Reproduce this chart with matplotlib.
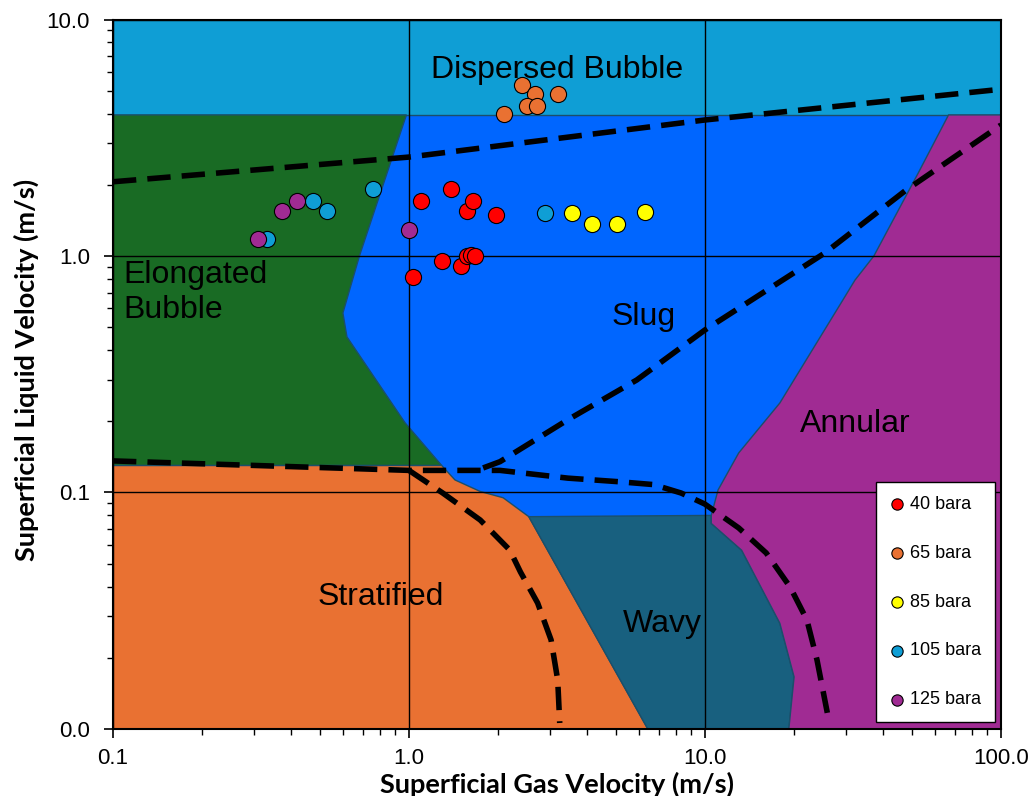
import numpy as np
import matplotlib.pyplot as plt
from matplotlib.ticker import FuncFormatter, LogLocator, NullFormatter
from matplotlib.patches import Polygon

# flow regime areas, (gas velocity, liquid velocity) in m/s
slug_x = [0.1, 100.0, 100.0, 0.1]
slug_y = [0.01, 0.01, 3.95, 3.95]
elongated_x = [0.1, 0.98, 0.68, 0.598, 0.617, 0.97, 1.29, 0.1]
elongated_y = [3.95, 3.95, 1.0, 0.574, 0.455, 0.197, 0.13, 0.13]
stratified_x = [0.1, 1.29, 1.43, 1.74, 2.08, 2.54, 6.41, 0.1]
stratified_y = [0.13, 0.13, 0.113, 0.101, 0.095, 0.079, 0.01, 0.01]
wavy_x = [2.54, 10.5, 10.5, 13.3, 17.9, 20.0, 19.2, 6.41]
wavy_y = [0.079, 0.080, 0.074, 0.057, 0.028, 0.0166, 0.01, 0.01]
annular_x = [100.0, 19.2, 20.0, 17.9, 13.3, 10.5, 10.5, 11.07, 13.0, 17.9,
             28.8, 32.1, 37.2, 52.5, 66.5, 100.0]
annular_y = [0.01, 0.01, 0.0166, 0.028, 0.057, 0.074, 0.080, 0.1025, 0.147, 0.239,
             0.632, 0.79, 1.0, 2.24, 3.95, 3.95]

# transition curves (dashed)
db_x = [0.1, 1.0, 10.0, 100.0]
db_y = [2.06, 2.62, 3.76, 5.07]
strat_x = [0.1, 1.0, 2.03, 3.44, 5.14, 6.7, 8.3, 9.98, 13.0, 16.1, 19.4, 22.1, 23.9, 25.9]
strat_y = [0.136, 0.124, 0.124, 0.115, 0.111, 0.108, 0.0995, 0.0894, 0.0708, 0.0555,
           0.0398, 0.0289, 0.0196, 0.0117]
wave_x = [1.0, 1.30, 1.74, 2.19, 2.38, 2.72, 3.02, 3.18, 3.23]
wave_y = [0.124, 0.0995, 0.0765, 0.0571, 0.0461, 0.0341, 0.0238, 0.0161, 0.0106]
ann_x = [1.78, 2.03, 3.44, 5.88, 9.98, 25.4, 47.8, 100.0]
ann_y = [0.127, 0.135, 0.203, 0.299, 0.486, 1.03, 1.90, 3.58]

# measured points
vsg_40 = [1.035, 1.098, 1.29, 1.382, 1.495, 1.568, 1.644, 1.568, 1.618, 1.670, 1.974]
vsl_40 = [0.813, 1.71, 0.952, 1.915, 0.91, 1.554, 1.71, 1.0, 1.01, 1.0, 1.486]
vsg_65 = [2.40, 2.66, 3.18, 2.50, 2.70, 2.10]
vsl_65 = [5.29, 4.84, 4.83, 4.32, 4.31, 3.98]
vsg_85 = [3.55, 4.16, 5.03, 6.27]
vsl_85 = [1.515, 1.36, 1.365, 1.53]
vsg_105 = [2.88, 0.754, 0.475, 0.527, 0.331]
vsl_105 = [1.515, 1.915, 1.71, 1.554, 1.177]
vsg_125 = [0.31, 0.373, 0.419, 1.0]
vsl_125 = [1.177, 1.554, 1.71, 1.288]

fig = plt.figure(figsize=(10.33, 7.96), dpi=100)
ax = fig.add_axes([0.1094, 0.0842, 0.8596, 0.8913])
ax.set_xscale('log')
ax.set_yscale('log')
ax.set_xlim(0.1, 100)
ax.set_ylim(0.01, 10)
ax.set_facecolor('#0F9ED5')

edge = '#1B4F6A'
regions = [(slug_x, slug_y, '#0066FF'),
           (elongated_x, elongated_y, '#196B24'),
           (stratified_x, stratified_y, '#E97132'),
           (wavy_x, wavy_y, '#18607F'),
           (annular_x, annular_y, '#A02B93')]
for xs, ys, c in regions:
    ax.add_patch(Polygon(np.column_stack([xs, ys]), closed=True, facecolor=c,
                         edgecolor=edge, lw=1.0, zorder=1))

ax.grid(True, which='major', color='black', lw=1.0)
ax.set_axisbelow(False)

dash = dict(color='black', lw=4.0, dashes=(4.2, 2.0), zorder=3, solid_capstyle='butt')
for xs, ys in [(db_x, db_y), (strat_x, strat_y), (wave_x, wave_y), (ann_x, ann_y)]:
    ax.plot(xs, ys, **dash)

lab = dict(fontsize=23, family='Liberation Sans', zorder=3)
ax.text(1.19, 6.1, 'Dispersed Bubble', ha='left', va='center', **lab)
ax.text(0.108, 0.70, 'Elongated\nBubble', ha='left', va='center', linespacing=1.22, **lab)
ax.text(6.22, 0.552, 'Slug', ha='center', va='center', **lab)
ax.text(32.1, 0.195, 'Annular', ha='center', va='center', **lab)
ax.text(0.80, 0.0361, 'Stratified', ha='center', va='center', **lab)
ax.text(7.16, 0.0278, 'Wavy', ha='center', va='center', **lab)

pts = [(vsg_40, vsl_40, '#FF0000', '40 bara'),
       (vsg_65, vsl_65, '#E97132', '65 bara'),
       (vsg_85, vsl_85, '#FFFF00', '85 bara'),
       (vsg_105, vsl_105, '#0F9ED5', '105 bara'),
       (vsg_125, vsl_125, '#A02B93', '125 bara')]
for xs, ys, c, name in pts:
    ax.scatter(xs, ys, s=135, color=c, edgecolors='black', linewidths=0.8,
               zorder=4, label=name)

leg = ax.legend(loc='upper left', bbox_to_anchor=(0.859, 0.348), frameon=True,
                fancybox=False, framealpha=1, edgecolor='black', markerscale=0.7,
                prop={'family': 'Liberation Sans', 'size': 13}, labelspacing=1.77,
                borderpad=0.75, handletextpad=0.35, handlelength=0.8, borderaxespad=0)
leg.get_frame().set_linewidth(1.0)
leg.set_zorder(5)

fmt = FuncFormatter(lambda v, pos: '%.1f' % v)
ax.xaxis.set_major_formatter(fmt)
ax.yaxis.set_major_formatter(fmt)
for axis in (ax.xaxis, ax.yaxis):
    axis.set_minor_locator(LogLocator(base=10, subs=np.arange(2, 10)))
    axis.set_minor_formatter(NullFormatter())
ax.tick_params(which='major', direction='out', length=6.5, width=1.2, labelsize=16,
               top=False, right=False)
ax.tick_params(which='minor', direction='out', length=4, width=1.0, top=False, right=False)
ax.tick_params(axis='x', which='major', pad=7)
ax.tick_params(axis='y', which='major', pad=10)
for t in ax.get_xticklabels() + ax.get_yticklabels():
    t.set_family('Liberation Sans')
for s in ax.spines.values():
    s.set_linewidth(1.5)
    s.set_zorder(6)

ax.set_xlabel('Superficial Gas Velocity (m/s)', fontsize=19.5, family='Lato',
              fontweight='bold')
ax.set_ylabel('Superficial Liquid Velocity (m/s)', fontsize=19.5, family='Lato',
              fontweight='bold')
ax.xaxis.set_label_coords(0.5, -0.0606)
ax.yaxis.set_label_coords(-0.0833, 0.506)

plt.savefig('out.png', dpi=100)
